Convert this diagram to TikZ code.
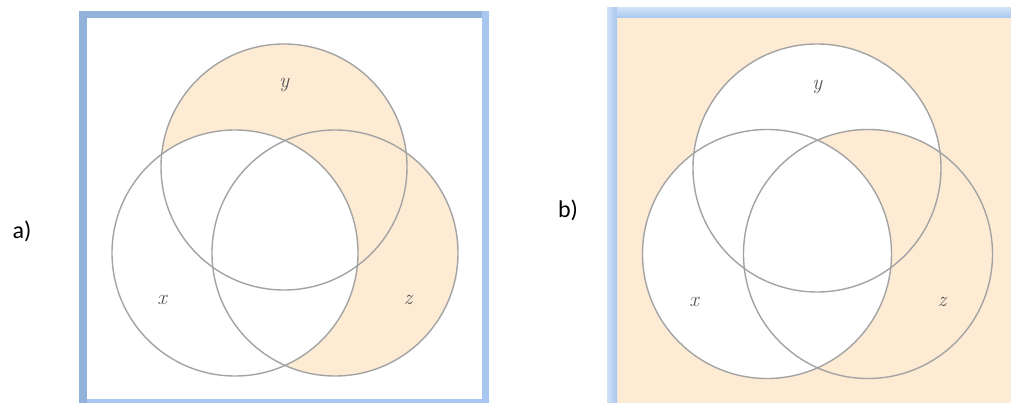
\documentclass[tikz,border=0pt]{standalone}
\usepackage{fontspec}
\newfontfamily\calib{Carlito}
\definecolor{peach}{HTML}{FDEBD4}
\definecolor{frameA}{HTML}{93B2DB}
\definecolor{frameB}{HTML}{A8C7F0}
\definecolor{ring}{HTML}{A3A3A3}
\definecolor{lbl}{HTML}{555555}
\tikzset{
  ringline/.style={draw=ring, line width=1.4pt},
  setlabel/.style={font=\fontsize{21}{21}\selectfont\itshape, text=lbl, inner sep=0pt},
  partlabel/.style={font=\calib\fontsize{24}{24}\selectfont, text=black, inner sep=0pt}
}
\begin{document}
\begin{tikzpicture}[x=1pt,y=-1pt]
\useasboundingbox (0,0) rectangle (1011,403);
% ---------- panel a ----------
\fill[white] (86,18) rectangle (482,399);
\begin{scope}
  \fill[peach] (284,167) circle (123);
  \fill[peach] (335,253) circle (123);
  \fill[white] (235,253) circle (123);
\end{scope}
\draw[ringline] (284,167) circle (123);
\draw[ringline] (235,253) circle (123);
\draw[ringline] (335,253) circle (123);
% frame a
\fill[frameA] (79,11) rectangle (86.5,403);
\fill[frameA] (79,11) rectangle (489,18);
\fill[frameB] (482,11) rectangle (489,403);
\fill[frameB] (86.5,399) rectangle (482,403);
\node[setlabel] (ya) at (284,85) {y};
\node[setlabel] (xa) at (162,300) {x};
\node[setlabel] (za) at (408,300) {z};
\node[partlabel] (la) at (22,231) {a)};
% ---------- panel b ----------
\fill[peach] (617,18) rectangle (1011,403);
\fill[white] (817,168) circle (124);
\begin{scope}
  \clip (868,254) circle (124.5);
  \fill[peach] (817,168) circle (124);
\end{scope}
\fill[white] (767,254) circle (124.5);
\draw[ringline] (817,168) circle (124);
\draw[ringline] (767,254) circle (124.5);
\draw[ringline] (868,254) circle (124.5);
% frame b
\shade[left color=frameB!55, right color=frameB] (607,8) rectangle (617,403);
\shade[top color=frameB!55, bottom color=frameB] (617,8) rectangle (1011,18);
\node[setlabel] (yb) at (817,87) {y};
\node[setlabel] (xb) at (694,302) {x};
\node[setlabel] (zb) at (942,302) {z};
\node[partlabel] (lb) at (568,210) {b)};
\end{tikzpicture}
\end{document}
